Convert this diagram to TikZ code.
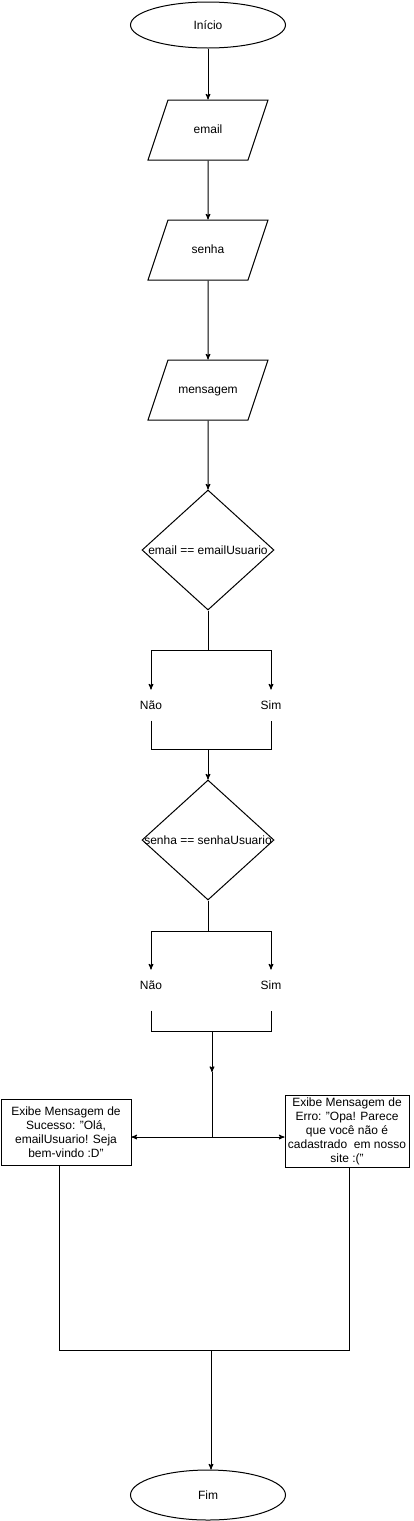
\documentclass[tikz,border=0pt]{standalone}
\usepackage{fontspec}
\setmainfont{Liberation Sans}
\usepackage{tikz}
\usetikzlibrary{arrows,shapes.geometric}

\begin{document}
\begin{tikzpicture}[-,>=stealth',x=1pt,y=-1pt,line width=1pt,font=\fontsize{12}{14}\selectfont]
  \tikzstyle{terminal}=[draw,ellipse,minimum width=155pt,minimum height=46pt,inner sep=0pt]
  \tikzstyle{io}=[draw,trapezium,trapezium left angle=71.57,trapezium right angle=108.43,
    trapezium stretches body=true,minimum width=120pt,text height=9pt,text depth=3pt,
    inner xsep=0pt,inner ysep=24pt]
  \tikzstyle{decision}=[draw,diamond,minimum width=132pt,minimum height=120pt,inner sep=0pt]
  \tikzstyle{answer}=[minimum height=30pt,inner sep=0pt]
  \tikzstyle{message}=[draw,align=center,inner sep=1pt]

  \useasboundingbox (0,0) rectangle (413,1521);

  \node[terminal] (inicio) at (208,25) {Início};
  \node[io] (email) at (208,130) {email};
  \node[io] (senha) at (208,250) {senha};
  \node[io] (mensagem) at (208,390) {mensagem};
  \node[decision] (d1) at (208,550) {};
  \node (d1text) at (d1) {email == emailUsuario};
  \node[answer] (nao1) at (151,705) {Não};
  \node[answer] (sim1) at (271,705) {Sim};
  \node[decision] (d2) at (208,840) {};
  \node (d2text) at (d2) {senha == senhaUsuario};
  \node[answer] (nao2) at (151,985) {Não};
  \node[answer] (sim2) at (271,985) {Sim};
  \node[message,minimum width=130pt,minimum height=66pt] (sucesso) at (66,1132)
    {Exibe Mensagem de\\Sucesso: "Olá,\\emailUsuario! Seja\\bem-vindo :D"};
  \node[message,minimum width=124pt,minimum height=72pt] (erro) at (347,1131)
    {Exibe Mensagem de\\Erro: "Opa! Parece\\que você não é\\cadastrado\ \ em nosso\\site :("};
  \node[terminal,minimum height=50pt] (fim) at (208,1495) {Fim};

  \coordinate (s1) at (208,650);
  \coordinate (m1) at (208,749);
  \coordinate (s2) at (208,931);
  \coordinate (m2) at (212,1031);
  \coordinate (a2) at (212,1072);
  \coordinate (j) at (212,1137);
  \coordinate (bl) at (59,1350);
  \coordinate (br) at (349,1350);
  \coordinate (bm) at (211,1350);

  \path[->] (inicio) edge (email);
  \path[->] (email) edge (senha);
  \path[->] (senha) edge (mensagem);
  \path[->] (mensagem) edge (d1);

  \draw (d1.south) -- (s1);
  \draw[->] (s1) -| (nao1);
  \draw[->] (s1) -| (sim1);
  \draw (nao1.south) |- (m1) -| (sim1.south);
  \path[->] (m1) edge (d2);

  \draw (d2.south) -- (s2);
  \draw[->] (s2) -| (nao2);
  \draw[->] (s2) -| (sim2);
  \draw ([yshift=-10pt]nao2.south) |- (m2) -| ([yshift=-10pt]sim2.south);
  \draw[->] (m2) -- (a2);
  \draw (a2) -- (j);
  \draw[->] (j) -- (j -| sucesso.east);
  \draw[->] (j) -- (j -| erro.west);

  \draw (sucesso.south -| bl) -- (bl) -- (br) -- (erro.south -| br);
  \draw[->] (bm) -- (bm |- fim.north);
\end{tikzpicture}
\end{document}
